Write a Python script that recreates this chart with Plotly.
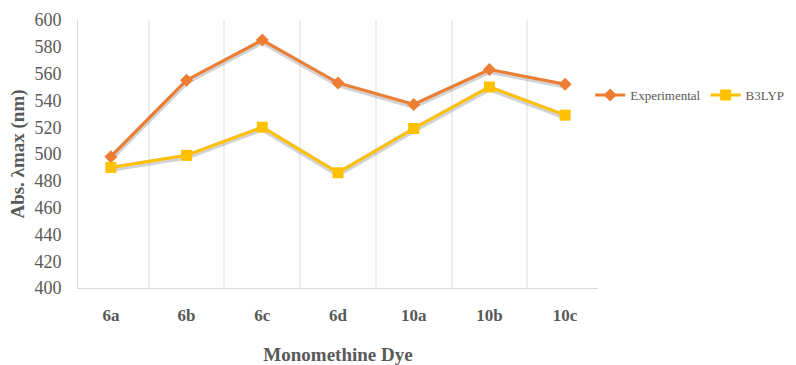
import plotly.graph_objects as go

categories = ["6a", "6b", "6c", "6d", "10a", "10b", "10c"]
experimental = [498, 555, 585, 553, 537, 563, 552]
b3lyp = [490, 499, 520, 486, 519, 550, 529]

font_fam = "Liberation Serif, Times New Roman, serif"
gray = "#595959"

fig = go.Figure()
# invisible anchor trace so the base subplot and its axes are drawn
fig.add_trace(go.Scatter(x=categories, y=experimental, mode="lines", opacity=0,
                         showlegend=False, hoverinfo="skip"))
# soft shadows (on an overlay drawn beneath the series)
for vals in (experimental, b3lyp):
    fig.add_trace(go.Scatter(x=categories, y=vals, mode="lines", yaxis="y2",
                             line=dict(color="rgba(110,110,110,0.3)", width=6),
                             showlegend=False, hoverinfo="skip"))
fig.add_trace(go.Scatter(x=categories, y=experimental, mode="lines+markers", name="Experimental",
                         yaxis="y3",
                         line=dict(color="#ED7D31", width=3),
                         marker=dict(symbol="diamond", size=10, color="#ED7D31")))
fig.add_trace(go.Scatter(x=categories, y=b3lyp, mode="lines+markers", name="B3LYP",
                         yaxis="y3",
                         line=dict(color="#FFC000", width=3),
                         marker=dict(symbol="square", size=11, color="#FFC000")))

fig.update_layout(
    width=796, height=365,
    margin=dict(l=78, r=198, t=20, b=77, autoexpand=False),
    paper_bgcolor="white", plot_bgcolor="white",
    font=dict(family=font_fam, color=gray),
    xaxis=dict(type="category", tickson="boundaries", showgrid=True, gridcolor="#E9F1EA",
               gridwidth=2, showline=True, linecolor="#D9D9D9", linewidth=1,
               ticks="", ticklabelstandoff=12, automargin=False,
               tickfont=dict(size=17, color=gray, family=font_fam, weight="bold"),
               title=dict(text="<b>Monomethine Dye</b>", font=dict(size=19, color=gray), standoff=30)),
    yaxis=dict(range=[400, 600], dtick=20, showgrid=False, showline=True, linecolor="#D9D9D9",
               linewidth=1, ticks="", zeroline=False, ticklabelstandoff=12, automargin=False,
               tickfont=dict(size=18, color=gray),
               title=dict(text="<b>Abs. λmax (nm)</b>", font=dict(size=19, color=gray), standoff=4)),
    yaxis2=dict(range=[401.0, 601.0], overlaying="y", visible=False),
    yaxis3=dict(range=[400, 600], overlaying="y", visible=False),
    legend=dict(x=0.985, y=0.72, xanchor="left", yanchor="middle", orientation="h",
                font=dict(size=13, color=gray), bgcolor="rgba(0,0,0,0)",
                traceorder="normal", itemwidth=30),
)
fig.write_html("out.html")
